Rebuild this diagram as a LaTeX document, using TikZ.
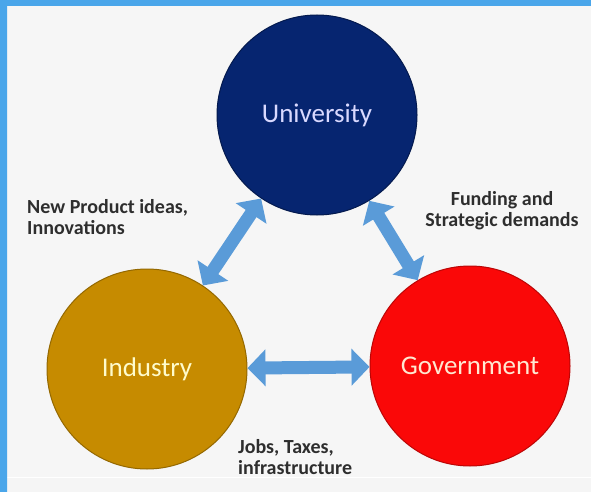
\documentclass[tikz,border=0pt]{standalone}
\usepackage{fontspec}
\setmainfont{Carlito}
\usetikzlibrary{arrows.meta}
\definecolor{frameblue}{HTML}{4AA6EA}
\definecolor{paper}{HTML}{F6F6F6}
\definecolor{unicol}{HTML}{062570}
\definecolor{indcol}{HTML}{C68B00}
\definecolor{govcol}{HTML}{FA0808}
\definecolor{arrowblue}{HTML}{5A9BD8}
\definecolor{labelgray}{HTML}{2E2E2E}
\tikzset{
  sector/.style={circle,inner sep=0pt,minimum size=200pt,line width=1pt,font=\fontsize{27}{30}\selectfont},
  twoway/.style={draw=arrowblue,line width=13pt,{Triangle[width=36pt,length=18pt]}-{Triangle[width=36pt,length=18pt]}},
  remark/.style={font=\fontsize{20}{21}\selectfont\bfseries,text=labelgray,inner sep=0pt}
}
\begin{document}
\begin{tikzpicture}[x=1pt,y=-1pt]
\useasboundingbox (0,0) rectangle (591,492);
\fill[paper] (0,0) rectangle (591,492);
\fill[black!4] (0,478) rectangle (591,492);
\draw[white,line width=1pt] (0,477.5) -- (591,477.5);
\fill[frameblue] (0,0) rectangle (591,6) (0,0) rectangle (7,492);

\node[sector,fill=unicol,draw=unicol!70!black,text=white!85!blue] (univ) at (317,115) {University};
\node[sector,fill=indcol,draw=indcol!75!black,text=white!80!yellow] (ind) at (147,369) {Industry};
\node[sector,fill=govcol,draw=govcol!75!black,text=white!82!orange] (gov) at (470,366) {Government};

\draw[twoway] (univ) -- (ind);
\draw[twoway] (univ) -- (gov);
\draw[twoway] (ind) -- (gov);

\node[remark,anchor=north west,align=left] (ideas) at (27,199) {New Product ideas,\\Innovations};
\node[remark,anchor=north,align=center] (funding) at (502,191) {Funding and\\Strategic demands};
\node[remark,anchor=north west,align=left] (jobs) at (238,439) {Jobs, Taxes,\\infrastructure};
\end{tikzpicture}
\end{document}
